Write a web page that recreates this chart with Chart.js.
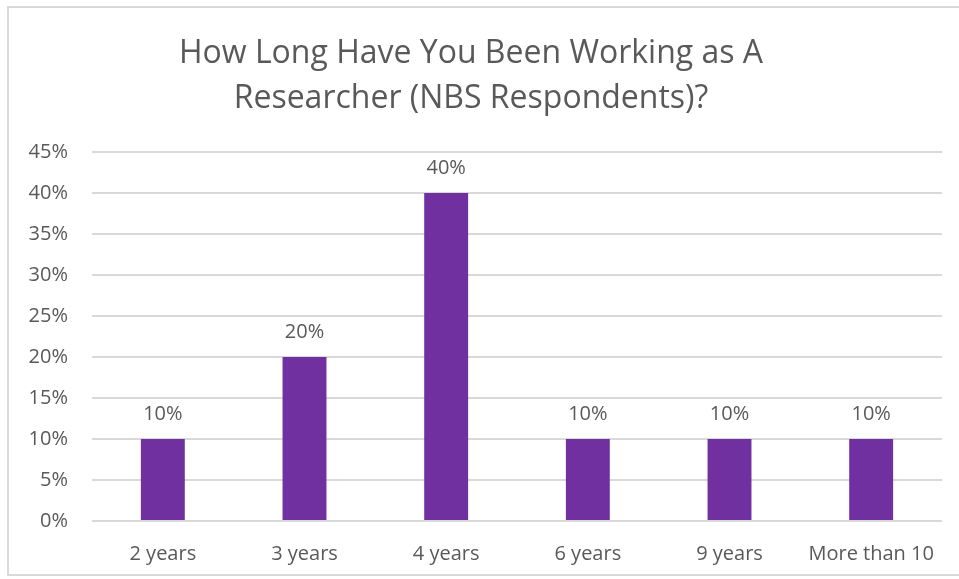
<!DOCTYPE html>
<html>
<head>
<meta charset="utf-8">
<script src="https://cdn.jsdelivr.net/npm/chart.js@4/dist/chart.umd.min.js"></script>
<style>
    body { margin: 0; background: #fff; overflow: hidden; }
    .frame { position: absolute; left: 7px; top: 6px; width: 960px; height: 570px; border: 2px solid #d9d9d9; box-sizing: border-box; }
    .wrap { position: absolute; left: 0; top: 0; width: 959px; height: 579px; }
</style>
</head>
<body>
<div class="frame"></div>
<div class="wrap"><canvas class="years-chart"></canvas></div>
<script>
const categories = ['2 years', '3 years', '4 years', '6 years', '9 years', 'More than 10'];
const shares = [10, 20, 40, 10, 10, 10];
const titleLines = ['How Long Have You Been Working as A', 'Researcher (NBS Respondents)?'];

const textGrey = '#595959';
const fontName = 'Open Sans';

// labels above each bar
const barLabels = {
    id: 'barLabels',
    afterDatasetsDraw(chart) {
        const ctx = chart.ctx;
        const meta = chart.getDatasetMeta(0);
        ctx.save();
        ctx.fillStyle = textGrey;
        ctx.font = `20px "${fontName}"`;
        ctx.textAlign = 'center';
        ctx.textBaseline = 'middle';
        meta.data.forEach(function (bar, i) {
            ctx.fillText(shares[i] + '%', bar.x, bar.y - 25);
        });
        ctx.restore();
    },
};

const createChart = function () {
    const config = {
        type: 'bar',
        data: {
            labels: categories,
            datasets: [
                {
                    data: shares,
                    backgroundColor: '#7030A0',
                    barPercentage: 0.31,
                    categoryPercentage: 1,
                },
            ],
        },
        options: {
            responsive: false,
            animation: false,
            layout: { padding: { left: 0, right: 17, top: 0, bottom: 0 } },
            plugins: {
                legend: { display: false },
                tooltip: { enabled: false },
                title: {
                    display: true,
                    text: titleLines,
                    color: textGrey,
                    font: { family: fontName, size: 32, weight: 'normal', lineHeight: 1.42 },
                    padding: { top: 31, bottom: 30 },
                },
            },
            scales: {
                x: {
                    grid: { display: false },
                    border: { display: false },
                    ticks: { color: textGrey, font: { family: fontName, size: 20 }, padding: 13, maxRotation: 0 },
                    afterFit(scale) { scale.height = 58; },
                },
                y: {
                    min: 0,
                    max: 45,
                    ticks: {
                        stepSize: 5,
                        color: textGrey,
                        font: { family: fontName, size: 20 },
                        padding: 24,
                        callback: (v) => v + '%',
                    },
                    grid: { color: '#d9d9d9', lineWidth: 2, drawTicks: false },
                    border: { display: false },
                    afterFit(scale) { scale.width = 92; },
                },
            },
        },
        plugins: [barLabels],
    };
    const canvas = document.querySelector('.years-chart');
    canvas.width = 959;
    canvas.height = 579;
    new Chart(canvas, config);
};

document.addEventListener('DOMContentLoaded', createChart);
</script>
</body>
</html>
